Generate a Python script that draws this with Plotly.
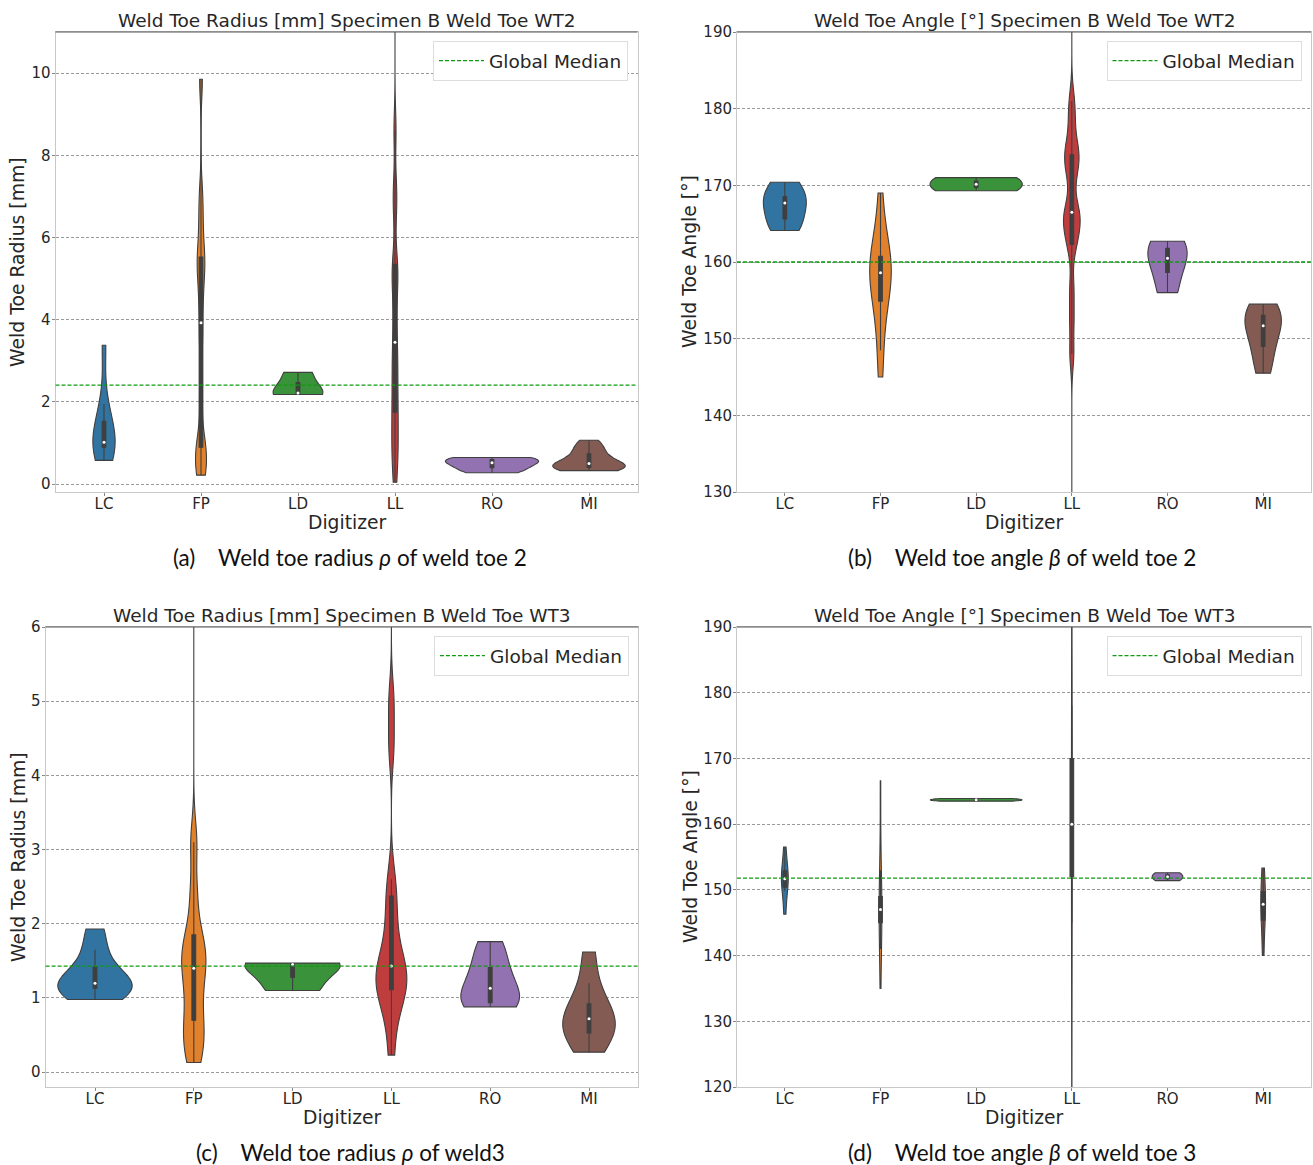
import numpy as np
import plotly.graph_objects as go

DIGITIZERS = ["LC", "FP", "LD", "LL", "RO", "MI"]
COLORS = ["#3274a1", "#e1812c", "#3a923a", "#c03d3e", "#9372b2", "#845b53"]

# (a) Weld toe radius [mm], weld toe WT2
RAD_WT2_LC = [0.58, 0.8, 0.9, 0.98, 1.02, 1.25, 1.53, 1.95, 3.38]
RAD_WT2_FP = [0.22, 0.4, 0.6, 0.83, 1.1, 2.2, 3.5, 4.35, 5.0, 5.45, 5.55, 6.3, 7.0, 9.85]
RAD_WT2_LD = [2.18, 2.22, 2.72]
RAD_WT2_LL = [0.05, 0.6, 0.95, 1.3, 1.75, 2.1, 2.6, 3.0, 3.45, 4.1, 4.8, 5.2, 5.35, 6.7, 7.2, 8.6, 13.0]
RAD_WT2_RO = [0.28, 0.4, 0.52, 0.6, 0.65]
RAD_WT2_MI = [0.33, 0.35, 0.37, 0.39, 0.41, 0.43, 0.45, 0.48, 0.53, 0.58, 0.64, 0.72, 0.8, 0.88, 0.97, 1.07]

# (b) Weld toe angle [deg], weld toe WT2
ANG_WT2_LC = [164.1, 165.6, 167.7, 168.5, 170.4]
ANG_WT2_FP = [145.0, 148.5, 152.0, 154.5, 155.3, 156.8, 157.8, 158.6, 159.2, 159.8, 160.5, 161.0, 162.5, 165.0, 169.0]
ANG_WT2_LD = [169.3, 171.0]
ANG_WT2_LL = [120.0, 148.0, 152.5, 156.5, 162.0, 163.2, 164.8, 165.8, 166.3, 166.7, 170.5, 172.8, 173.3, 174.2,
              175.5, 178.5, 181.0, 200.0]
ANG_WT2_RO = [156.0, 159.5, 161.5, 162.7]
ANG_WT2_MI = [145.5, 148.0, 150.0, 151.7, 152.6, 153.5, 154.5]

# (c) Weld toe radius [mm], weld toe WT3
RAD_WT3_LC = [0.98, 1.05, 1.13, 1.17, 1.2, 1.25, 1.42, 1.65, 1.93]
RAD_WT3_FP = [0.13, 0.35, 0.5, 0.7, 0.95, 1.25, 1.4, 1.55, 1.7, 1.85, 2.4, 3.1, 7.0]
RAD_WT3_LD = [1.1, 1.45, 1.47]
RAD_WT3_LL = [0.23, 0.7, 0.95, 1.08, 1.12, 1.25, 1.35, 1.41, 1.45, 1.7, 2.0, 2.3, 2.6, 4.4, 5.0, 7.0]
RAD_WT3_RO = [0.88, 0.9, 0.97, 1.13, 1.3, 1.52, 1.76]
RAD_WT3_MI = [0.27, 0.45, 0.53, 0.62, 0.72, 0.8, 0.92, 1.2, 1.62]

# (d) Weld toe angle [deg], weld toe WT3
ANG_WT3_LC = [146.3, 149.8, 151.0, 151.7, 152.5, 153.3, 156.5]
ANG_WT3_FP = [135.0, 141.0, 145.0, 146.3, 147.0, 147.8, 149.0, 153.0, 166.6]
ANG_WT3_LD = [163.5, 163.7, 163.9]
ANG_WT3_LL = [100.0, 145.0, 152.0, 157.0, 160.0, 163.0, 170.0, 178.0, 220.0]
ANG_WT3_RO = [151.4, 152.0, 152.6]
ANG_WT3_MI = [140.0, 144.5, 146.3, 147.8, 149.0, 150.5, 153.3]

GLOBAL_MEDIANS = [2.41, 160.0, 1.43, 151.8]

TITLES = [
    "Weld Toe Radius [mm] Specimen B Weld Toe WT2",
    "Weld Toe Angle [°] Specimen B Weld Toe WT2",
    "Weld Toe Radius [mm] Specimen B Weld Toe WT3",
    "Weld Toe Angle [°] Specimen B Weld Toe WT3",
]
Y_TITLES = ["Weld Toe Radius [mm]", "Weld Toe Angle [°]", "Weld Toe Radius [mm]", "Weld Toe Angle [°]"]
CAPTIONS = [
    "(a)    Weld toe radius <i>ρ</i> of weld toe 2",
    "(b)    Weld toe angle <i>β</i> of weld toe 2",
    "(c)    Weld toe radius <i>ρ</i> of weld3",
    "(d)    Weld toe angle <i>β</i> of weld toe 3",
]
Y_RANGES = [[-0.19, 11.0], [130, 190], [-0.2, 6.0], [120, 190]]
Y_TICKS = [[0, 2, 4, 6, 8, 10], [130, 140, 150, 160, 170, 180, 190],
           [0, 1, 2, 3, 4, 5, 6], [120, 130, 140, 150, 160, 170, 180, 190]]

PANELS = [
    [RAD_WT2_LC, RAD_WT2_FP, RAD_WT2_LD, RAD_WT2_LL, RAD_WT2_RO, RAD_WT2_MI],
    [ANG_WT2_LC, ANG_WT2_FP, ANG_WT2_LD, ANG_WT2_LL, ANG_WT2_RO, ANG_WT2_MI],
    [RAD_WT3_LC, RAD_WT3_FP, RAD_WT3_LD, RAD_WT3_LL, RAD_WT3_RO, RAD_WT3_MI],
    [ANG_WT3_LC, ANG_WT3_FP, ANG_WT3_LD, ANG_WT3_LL, ANG_WT3_RO, ANG_WT3_MI],
]
# KDE bandwidth (style): None = Scott's rule, otherwise a fixed kernel width
KDE_BANDWIDTH = [
    [None, 0.45, None, 0.5, None, None],
    [None, None, None, 2.0, None, None],
    [None, 0.3, None, 0.3, None, None],
    [None, None, None, None, None, None],
]

W, H = 1313, 1165
# pixel boxes of the four plot areas: (left, right, top, bottom)
BOXES = [(55.5, 637.5, 32, 492), (737, 1311, 32, 492),
         (45.6, 638.4, 627, 1087), (737, 1311, 627, 1087)]

FONT = "DejaVu Sans"
DARK = "#3f3f3f"
TXT = "#262626"

fig = go.Figure()
layout = {}
annotations = []
shapes = []

for p, (data_list, box) in enumerate(zip(PANELS, BOXES)):
    i = p + 1
    xa = "x" if i == 1 else f"x{i}"
    ya = "y" if i == 1 else f"y{i}"
    xkey = "xaxis" if i == 1 else f"xaxis{i}"
    ykey = "yaxis" if i == 1 else f"yaxis{i}"
    leg = "legend" if i == 1 else f"legend{i}"
    l, r, t, b = box
    for k, (name, vals, col) in enumerate(zip(DIGITIZERS, data_list, COLORS)):
        arr = np.asarray(vals, dtype=float)
        n = len(arr)
        bw = KDE_BANDWIDTH[p][k]
        if bw is None:
            bw = np.std(arr, ddof=1) * n ** (-0.2)
        fig.add_trace(go.Violin(
            x=[name] * n, y=arr, xaxis=xa, yaxis=ya,
            scalegroup=f"p{i}", scalemode="width",
            spanmode="hard", bandwidth=bw, points=False,
            fillcolor=col, line=dict(color=DARK, width=1.1),
            box_visible=False, meanline_visible=False,
            showlegend=False, hoverinfo="skip", opacity=1,
        ))
        q1, med, q3 = np.percentile(arr, [25, 50, 75])
        iqr = q3 - q1
        lf = arr[arr >= q1 - 1.5 * iqr].min()
        uf = arr[arr <= q3 + 1.5 * iqr].max()
        fig.add_trace(go.Box(
            x=[name], q1=[q1], median=[med], q3=[q3],
            lowerfence=[lf], upperfence=[uf], xaxis=xa, yaxis=ya,
            width=0.038, whiskerwidth=0, fillcolor=DARK,
            line=dict(color=DARK, width=1.1), boxpoints=False,
            showlegend=False, hoverinfo="skip",
        ))
        fig.add_trace(go.Scatter(
            x=[name], y=[med], xaxis=xa, yaxis=ya, mode="markers",
            marker=dict(color="white", size=3), showlegend=False, hoverinfo="skip",
        ))

    layout[xkey] = dict(
        domain=[l / W, r / W], anchor=ya, type="category",
        categoryorder="array", categoryarray=DIGITIZERS, range=[-0.5, 5.5],
        showgrid=False, showline=True, mirror=True, linecolor="#c8c8c8", linewidth=1,
        ticks="outside", ticklen=3, tickcolor="#888", zeroline=False,
        ticklabelstandoff=-5,
        tickfont=dict(family=FONT, size=15, color=TXT),
    )
    layout[ykey] = dict(
        domain=[1 - b / H, 1 - t / H], anchor=xa, range=Y_RANGES[p],
        tickvals=Y_TICKS[p], showgrid=True, gridcolor="#9a9a9a", griddash="3px,2px",
        gridwidth=0.8, showline=True, mirror=True, linecolor="#c8c8c8", linewidth=1,
        ticks="outside", ticklen=3, tickcolor="#888", zeroline=False,
        ticklabelstandoff=-2,
        tickfont=dict(family=FONT, size=15, color=TXT),
    )
    # top border (darker)
    shapes.append(dict(type="line", xref=f"{xa} domain", yref=f"{ya} domain",
                       x0=0, x1=1, y0=1, y1=1, line=dict(color="#555", width=1.2)))
    # global median line
    shapes.append(dict(type="line", xref=f"{xa} domain", yref=ya, x0=0, x1=1,
                       y0=GLOBAL_MEDIANS[p], y1=GLOBAL_MEDIANS[p], layer="above",
                       line=dict(color="#109a10", width=1.3, dash="4px,2px"),
                       showlegend=True, name="Global Median", legend=leg))
    layout[leg] = dict(
        x=(r - 9.5) / W, y=1 - (t + 9) / H, xanchor="right", yanchor="top",
        bgcolor="white", bordercolor="#dddddd", borderwidth=1, itemwidth=45,
        font=dict(family=FONT, size=18.5, color=TXT),
    )
    cx = (l + r) / 2
    annotations.append(dict(text=TITLES[p], x=cx / W, y=1 - (t - 12) / H, xref="paper", yref="paper",
                            showarrow=False, font=dict(family=FONT, size=18.5, color=TXT),
                            xanchor="center", yanchor="middle"))
    annotations.append(dict(text="Digitizer", x=cx / W, y=1 - (b + 30) / H, xref="paper", yref="paper",
                            showarrow=False, font=dict(family=FONT, size=18.7, color=TXT),
                            xanchor="center", yanchor="middle"))
    ytx = 18 if p in (0, 2) else 690
    annotations.append(dict(text=Y_TITLES[p], x=ytx / W, y=1 - (t + b) / 2 / H, xref="paper", yref="paper",
                            showarrow=False, textangle=-90, font=dict(family=FONT, size=18.8, color=TXT),
                            xanchor="center", yanchor="middle"))
    capx = 350 if p in (0, 2) else 1022
    annotations.append(dict(text=CAPTIONS[p], x=capx / W, y=1 - (b + 65) / H, xref="paper", yref="paper",
                            showarrow=False, font=dict(family="Lato", size=22.5, color="#111"),
                            xanchor="center", yanchor="middle"))

fig.update_layout(
    width=W, height=H, margin=dict(l=0, r=0, t=0, b=0, autoexpand=False),
    paper_bgcolor="white", plot_bgcolor="white",
    violinmode="overlay", violingap=0.04, violingroupgap=0, boxmode="overlay", showlegend=True,
    annotations=annotations, shapes=shapes, **layout,
)
fig.write_html("out.html")
